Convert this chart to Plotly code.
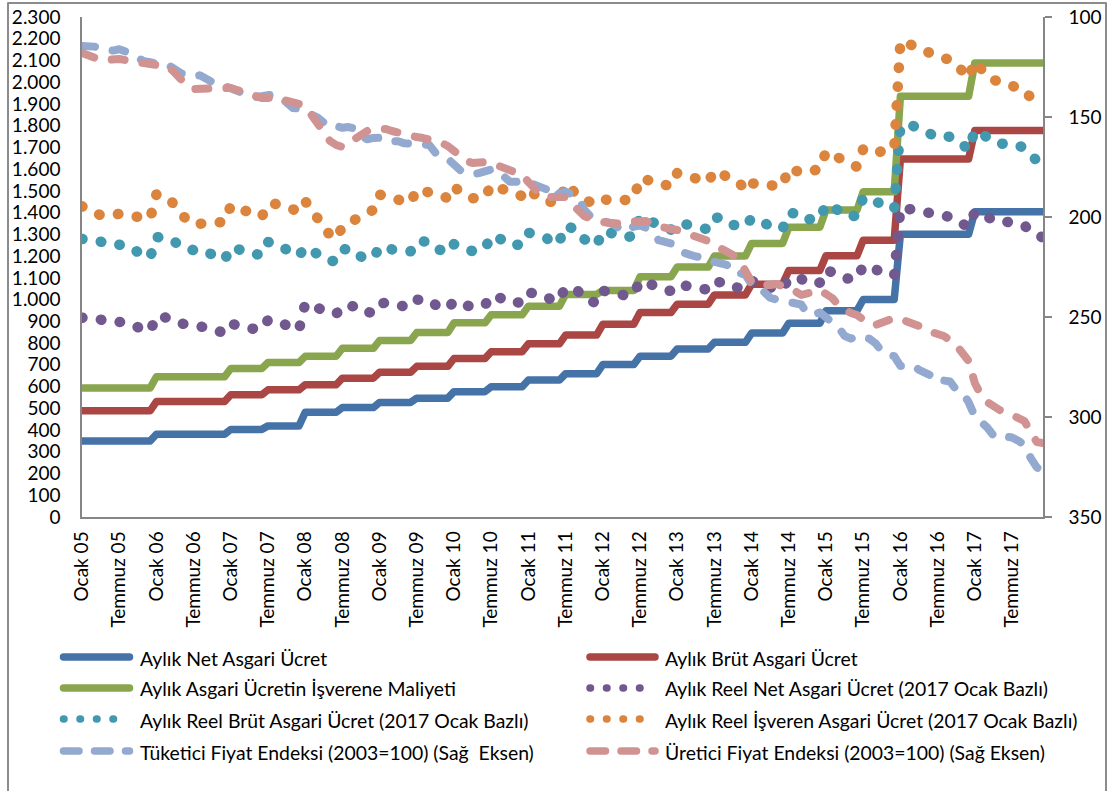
import plotly.graph_objects as go

# Aylık seri: Ocak 2005 - Aralık 2017 (156 ay)
ay_etiketleri = [
    "Ocak 05", "Temmuz 05", "Ocak 06", "Temmuz 06", "Ocak 07", "Temmuz 07",
    "Ocak 08", "Temmuz 08", "Ocak 09", "Temmuz 09", "Ocak 10", "Temmuz 10",
    "Ocak 11", "Temmuz 11", "Ocak 12", "Temmuz 12", "Ocak 13", "Temmuz 13",
    "Ocak 14", "Temmuz 14", "Ocak 15", "Temmuz 15", "Ocak 16", "Temmuz 16",
    "Ocak 17", "Temmuz 17",
]
ay_sayisi = 156
etiket_araligi = 6

# Asgari ücret dönemleri (2005 ve 2006 yıllık, 2007-2015 altı aylık, 2016 ve 2017 yıllık)
donem_ay_sayisi = [12, 12] + [6] * 18 + [12, 12]
net_donem = [350.15, 380.46, 403.03, 419.15, 481.55, 503.26, 527.13, 546.48,
             576.57, 599.12, 629.96, 658.95, 701.14, 739.79, 773.01, 803.68,
             846.00, 891.03, 949.07, 1000.54, 1300.99, 1404.06]
brut_donem = [488.70, 531.00, 562.50, 585.00, 608.40, 638.70, 666.00, 693.00,
              729.00, 760.50, 796.50, 837.00, 886.50, 940.50, 978.60, 1021.50,
              1071.00, 1134.00, 1201.50, 1273.50, 1647.00, 1777.50]
maliyet_donem = [593.77, 645.17, 683.44, 710.78, 739.21, 776.02, 812.00, 849.00,
                 893.00, 930.00, 970.00, 1024.00, 1042.00, 1105.00, 1149.86, 1200.26,
                 1258.43, 1332.45, 1411.76, 1496.36, 1935.23, 2088.56]

reel_net = [
    917, 917, 914, 908, 899, 899, 904, 896, 887, 871, 859, 856,
    923, 921, 918, 906, 890, 887, 879, 883, 872, 861, 850, 848,
    889, 886, 877, 867, 863, 865, 906, 906, 897, 881, 864, 862,
    982, 970, 961, 945, 931, 934, 971, 973, 969, 944, 936, 940,
    982, 985, 975, 974, 968, 967, 1000, 1003, 999, 976, 964, 958,
    993, 979, 973, 967, 971, 975, 1019, 1015, 1003, 985, 985, 988,
    1034, 1027, 1022, 1014, 990, 1004, 1055, 1047, 1039, 1006, 989, 983,
    1041, 1035, 1030, 1015, 1017, 1026, 1085, 1079, 1067, 1048, 1044, 1040,
    1069, 1066, 1059, 1054, 1053, 1045, 1083, 1084, 1076, 1057, 1057, 1052,
    1086, 1081, 1069, 1055, 1051, 1048, 1098, 1097, 1096, 1075, 1073, 1078,
    1136, 1128, 1115, 1097, 1091, 1096, 1155, 1150, 1140, 1122, 1115, 1113,
    1421, 1421, 1422, 1411, 1403, 1396, 1380, 1384, 1382, 1362, 1355, 1333,
    1404, 1393, 1379, 1361, 1355, 1359, 1357, 1350, 1341, 1314, 1294, 1285,
]
reel_brut = [
    1279, 1279, 1276, 1267, 1255, 1254, 1261, 1251, 1238, 1216, 1199, 1194,
    1288, 1285, 1282, 1265, 1242, 1237, 1227, 1232, 1217, 1202, 1186, 1183,
    1241, 1236, 1225, 1210, 1204, 1207, 1265, 1264, 1251, 1229, 1206, 1203,
    1241, 1225, 1214, 1194, 1176, 1180, 1232, 1235, 1229, 1198, 1188, 1193,
    1241, 1245, 1231, 1231, 1223, 1222, 1268, 1272, 1267, 1237, 1222, 1215,
    1255, 1237, 1230, 1223, 1227, 1234, 1294, 1289, 1273, 1250, 1250, 1254,
    1308, 1298, 1293, 1282, 1251, 1269, 1339, 1330, 1320, 1278, 1256, 1249,
    1316, 1308, 1303, 1283, 1286, 1298, 1380, 1372, 1356, 1332, 1327, 1322,
    1353, 1349, 1340, 1335, 1333, 1323, 1376, 1378, 1367, 1343, 1343, 1337,
    1375, 1369, 1354, 1336, 1330, 1326, 1398, 1397, 1395, 1369, 1366, 1372,
    1438, 1428, 1411, 1388, 1381, 1388, 1470, 1463, 1451, 1428, 1419, 1416,
    1799, 1799, 1800, 1786, 1776, 1767, 1747, 1752, 1749, 1724, 1715, 1688,
    1778, 1763, 1746, 1723, 1715, 1720, 1717, 1709, 1698, 1663, 1639, 1627,
]
reel_isveren = [
    1429, 1411, 1394, 1388, 1388, 1396, 1394, 1388, 1382, 1377, 1371, 1373,
    1484, 1478, 1466, 1432, 1393, 1362, 1347, 1347, 1352, 1352, 1357, 1357,
    1432, 1422, 1412, 1396, 1386, 1382, 1437, 1442, 1432, 1427, 1417, 1407,
    1453, 1409, 1372, 1333, 1296, 1280, 1336, 1352, 1369, 1391, 1404, 1413,
    1483, 1478, 1469, 1460, 1450, 1446, 1507, 1502, 1498, 1488, 1479, 1466,
    1519, 1496, 1475, 1466, 1470, 1470, 1527, 1518, 1505, 1492, 1484, 1476,
    1510, 1477, 1458, 1450, 1446, 1450, 1531, 1499, 1480, 1458, 1447, 1440,
    1461, 1458, 1451, 1454, 1461, 1465, 1557, 1554, 1538, 1531, 1527, 1523,
    1582, 1574, 1566, 1559, 1552, 1541, 1593, 1581, 1571, 1556, 1539, 1501,
    1537, 1527, 1524, 1527, 1530, 1524, 1606, 1596, 1583, 1589, 1596, 1600,
    1681, 1667, 1644, 1627, 1617, 1611, 1693, 1676, 1673, 1683, 1689, 1696,
    2189, 2181, 2176, 2159, 2143, 2134, 2130, 2118, 2102, 2082, 2051, 2020,
    2096, 2053, 2028, 2011, 2001, 1994, 1984, 1971, 1965, 1929, 1899, 1895,
]
tufe = [
    114.49, 114.51, 114.81, 115.63, 116.69, 116.81, 116.14, 117.13, 118.32, 120.45, 122.13, 122.65,
    123.57, 123.84, 124.18, 125.84, 128.20, 128.63, 129.72, 129.15, 130.81, 132.47, 134.18, 134.49,
    135.84, 136.42, 137.68, 139.34, 140.03, 139.69, 138.67, 138.70, 140.13, 142.67, 145.45, 145.77,
    146.94, 148.84, 150.27, 152.79, 155.07, 154.51, 155.40, 155.02, 155.72, 159.77, 161.11, 160.45,
    160.90, 160.35, 162.12, 162.15, 163.19, 163.37, 163.78, 163.29, 163.93, 167.88, 170.01, 170.91,
    174.07, 176.59, 177.62, 178.68, 178.04, 177.04, 176.19, 176.90, 179.07, 182.35, 182.40, 181.85,
    182.60, 183.93, 184.70, 186.30, 190.81, 188.08, 187.31, 188.68, 190.09, 196.31, 199.70, 200.85,
    201.98, 203.10, 203.96, 207.05, 206.61, 204.76, 204.29, 205.43, 207.54, 211.61, 212.42, 213.23,
    216.74, 217.39, 218.83, 219.75, 220.07, 221.75, 222.44, 222.21, 223.92, 227.95, 227.97, 229.01,
    233.54, 234.54, 237.18, 240.37, 241.32, 242.07, 243.17, 243.40, 243.74, 248.37, 248.82, 247.72,
    250.45, 252.24, 255.23, 259.39, 260.85, 259.51, 259.74, 260.85, 263.17, 267.25, 269.04, 269.54,
    274.45, 274.40, 274.29, 276.42, 278.02, 279.33, 282.57, 281.76, 282.27, 286.33, 287.81, 292.54,
    299.74, 302.17, 305.24, 309.23, 310.62, 309.78, 310.24, 311.85, 313.88, 320.41, 325.18, 327.41,
]
ufe = [
    118.0, 119.5, 121.0, 121.5, 121.5, 120.8, 121.0, 121.5, 122.0, 122.5, 123.0, 122.8,
    123.5, 124.0, 125.0, 128.0, 131.5, 134.5, 136.0, 136.0, 135.5, 135.5, 135.0, 135.0,
    135.5, 136.5, 137.5, 139.0, 140.0, 140.5, 140.5, 140.0, 141.0, 141.5, 142.5, 143.5,
    144.5, 149.0, 153.0, 157.5, 162.0, 164.0, 165.0, 163.0, 161.0, 158.5, 157.0, 156.0,
    155.5, 156.0, 157.0, 158.0, 159.0, 159.5, 160.0, 160.5, 161.0, 162.0, 163.0, 164.5,
    167.0, 169.5, 172.0, 173.0, 172.5, 172.5, 173.0, 174.0, 175.5, 177.0, 178.0, 179.0,
    182.5, 186.5, 189.0, 190.0, 190.5, 190.0, 190.0, 194.0, 196.5, 199.5, 201.0, 202.0,
    202.5, 203.0, 204.0, 203.5, 202.5, 202.0, 201.5, 202.0, 204.0, 205.0, 205.5, 206.0,
    206.5, 207.5, 208.5, 209.5, 210.5, 212.0, 214.0, 215.5, 217.0, 219.0, 221.5, 227.0,
    232.5, 234.0, 234.5, 234.0, 233.5, 234.5, 235.5, 237.0, 239.0, 238.0, 237.0, 236.5,
    238.5, 240.5, 244.0, 246.5, 248.0, 249.0, 251.0, 253.5, 254.0, 252.5, 251.5, 250.5,
    251.0, 252.0, 252.5, 254.5, 256.5, 257.5, 258.0, 259.5, 261.5, 264.0, 268.0, 272.0,
    283.0, 289.0, 292.5, 295.0, 296.5, 297.5, 299.0, 301.0, 302.0, 307.5, 312.5, 313.0,
]


def aylik(donem_degerleri):
    """Dönem düzeylerini her ay için tekrarlar (basamaklı seri)."""
    return [v for v, n in zip(donem_degerleri, donem_ay_sayisi) for _ in range(n)]


aylar = list(range(ay_sayisi))
net = aylik(net_donem)
brut = aylik(brut_donem)
maliyet = aylik(maliyet_donem)

# Çizgi stilleri
DUZ = dict(width=7.5, dash="solid")
NOKTA = dict(width=10.5, dash="0.5px,18.5px")
KESIK = dict(width=8, dash="13px,18px")

seriler = [
    ("Aylık Net Asgari Ücret", net, "#4572A7", DUZ, "y"),
    ("Aylık Brüt Asgari Ücret", brut, "#AA4643", DUZ, "y"),
    ("Aylık Asgari Ücretin İşverene Maliyeti", maliyet, "#89A54E", DUZ, "y"),
    ("Aylık Reel Net Asgari Ücret (2017 Ocak Bazlı)", reel_net, "#71588F", NOKTA, "y"),
    ("Aylık Reel Brüt Asgari Ücret (2017 Ocak Bazlı)", reel_brut, "#4198AF", NOKTA, "y"),
    ("Aylık Reel İşveren Asgari Ücret (2017 Ocak Bazlı)", reel_isveren, "#DB843D", NOKTA, "y"),
    ("Tüketici Fiyat Endeksi (2003=100) (Sağ  Eksen)", tufe, "#93A9CF", KESIK, "y2"),
    ("Üretici Fiyat Endeksi (2003=100) (Sağ Eksen)", ufe, "#D19392", KESIK, "y2"),
]

fig = go.Figure()
for ad, degerler, renk, stil, eksen in seriler:
    fig.add_trace(go.Scatter(
        x=aylar, y=degerler, name=ad, mode="lines", yaxis=eksen,
        line=dict(color=renk, width=stil["width"], dash=stil["dash"]),
        showlegend=False, hoverinfo="skip",
    ))

# Sayfa geometrisi (piksel)
GEN, YUK = 1109, 791
SOL, SAG, UST, ALT = 82, 1043, 17, 517


def px_x(p):
    return (p - SOL) / (SAG - SOL)


def px_y(p):
    return (ALT - p) / (ALT - UST)


# Gösterge: iki sütun, dört satır
satir_y = [657, 688, 719, 751]
sutunlar = [(63.5, 129.5, 138), (590, 655, 663)]
gosterge_stil = {
    "solid": dict(width=7.5, dash="solid"),
    NOKTA["dash"]: dict(width=7.5, dash="0.5px,16px"),
    KESIK["dash"]: dict(width=7.5, dash="15.5px,15.5px"),
}
sekiller = []
notlar = []
for i, (ad, _, renk, stil, _) in enumerate(seriler):
    x0, x1, xt = sutunlar[i % 2]
    y = satir_y[i // 2]
    gs = gosterge_stil[stil["dash"]]
    sekiller.append(dict(
        type="line", xref="paper", yref="paper",
        x0=px_x(x0), x1=px_x(x1), y0=px_y(y), y1=px_y(y),
        line=dict(color=renk, width=gs["width"], dash=gs["dash"]),
    ))
    notlar.append(dict(
        xref="paper", yref="paper", x=px_x(xt), y=px_y(y + 1),
        text=ad, showarrow=False, xanchor="left", yanchor="middle",
        font=dict(family="Lato", size=19.4, color="#000000"),
    ))

# Dış çerçeve
sekiller.append(dict(
    type="rect", xref="paper", yref="paper",
    x0=px_x(8), x1=px_x(1106), y0=px_y(800), y1=px_y(3),
    line=dict(color="#8C8C8C", width=2), fillcolor="rgba(0,0,0,0)", layer="below",
))

EKSEN_RENK = "#868686"
TIK_FONT = dict(family="Lato", size=19, color="#000000")

fig.update_layout(
    width=GEN, height=YUK,
    margin=dict(l=SOL, r=GEN - SAG, t=UST, b=YUK - ALT, pad=0),
    paper_bgcolor="white", plot_bgcolor="white",
    separators=",.",
    showlegend=False,
    shapes=sekiller,
    annotations=notlar,
    xaxis=dict(
        range=[0, ay_sayisi - 1], tickmode="array",
        tickvals=list(range(0, ay_sayisi, etiket_araligi)), ticktext=ay_etiketleri,
        tickangle=-90, tickfont=TIK_FONT, ticks="", showgrid=False, zeroline=False,
        showline=True, linecolor=EKSEN_RENK, linewidth=1.5,
        ticklabelstandoff=5, automargin=False,
    ),
    yaxis=dict(
        range=[0, 2300], tick0=0, dtick=100, tickformat=",d",
        tickfont=TIK_FONT, ticks="", showgrid=False, zeroline=False,
        showline=True, linecolor=EKSEN_RENK, linewidth=1.5,
        ticklabelstandoff=16, automargin=False,
    ),
    yaxis2=dict(
        overlaying="y", side="right", range=[350, 100], tick0=100, dtick=50,
        tickfont=TIK_FONT, ticks="outside", ticklen=7, tickwidth=1.5, tickcolor=EKSEN_RENK,
        showgrid=False, zeroline=False, showline=True, linecolor=EKSEN_RENK, linewidth=1.5,
        ticklabelstandoff=13, automargin=False,
    ),
)

# Excel tarzı yuvarlak uçlu noktalar ve kesikler
yuvarlak_uclar = """
var gd = document.getElementById('{plot_id}');
function yuvarlat() {
    gd.querySelectorAll('.scatterlayer path.js-line, .shapelayer path').forEach(function (p) {
        p.style.strokeLinecap = 'round';
        p.style.strokeLinejoin = 'round';
    });
}
yuvarlat();
gd.on('plotly_afterplot', yuvarlat);
"""

fig.write_html("out.html", post_script=yuvarlak_uclar)
